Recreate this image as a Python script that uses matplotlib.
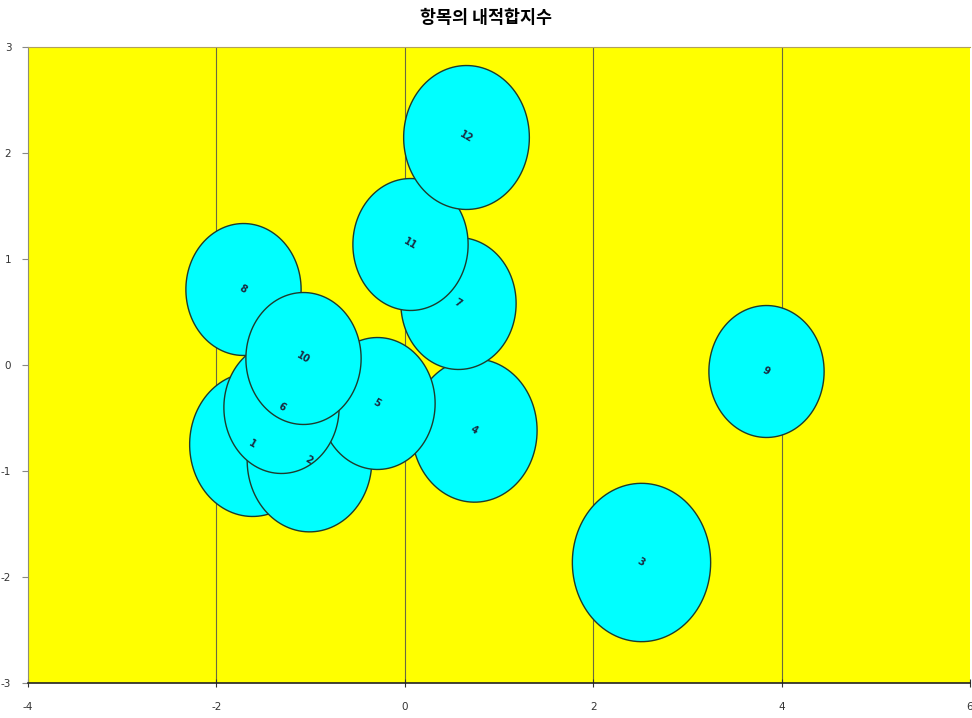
import numpy as np
import matplotlib.pyplot as plt
from matplotlib.path import Path

plt.rcParams['font.family'] = ['Noto Sans CJK KR', 'DejaVu Sans']

# item number, x (infit), y, bubble size
items = ['1', '2', '3', '4', '5', '6', '7', '8', '9', '10', '11', '12']
x_vals = [-1.62, -1.02, 2.51, 0.735, -0.295, -1.31, 0.565, -1.72, 3.83, -1.08, 0.055, 0.65]
y_vals = [-0.745, -0.90, -1.86, -0.61, -0.36, -0.40, 0.585, 0.72, -0.06, 0.066, 1.14, 2.15]
sizes = [1.19, 1.17, 1.44, 1.18, 1.0, 1.0, 1.0, 1.0, 1.0, 1.0, 1.0, 1.19]

x_ticks = [-4, -2, 0, 2, 4, 6]
y_ticks = [-3, -2, -1, 0, 1, 2, 3]

# bubbles are slightly taller than wide
t = np.linspace(0, 2 * np.pi, 120)
ellipse = Path(np.column_stack([np.cos(t) / 1.145, np.sin(t)]), closed=True)

fig = plt.figure(figsize=(9.72, 7.18), dpi=100)
ax = fig.add_axes([28 / 972, 35 / 718, 942 / 972, 636 / 718])
ax.set_facecolor('#FFFF00')

base = 95.0 ** 2
for i in range(len(items)):
    ax.scatter(x_vals[i], y_vals[i], s=base * sizes[i], marker=ellipse,
               facecolor='#00FFFF', edgecolor='#1e3b2c', linewidth=1.0, zorder=3 + i)
# labels sit on top of every bubble
for i in range(len(items)):
    ax.text(x_vals[i], y_vals[i], items[i], fontsize=7, fontweight='bold',
            color='#1a2a40', rotation=-30, ha='center', va='center',
            family='DejaVu Sans', zorder=50)

ax.set_xlim(-4, 6)
ax.set_ylim(-3, 3)
ax.set_xticks(x_ticks)
ax.set_yticks(y_ticks)
ax.set_xticklabels([str(v) for v in x_ticks], fontsize=7.5, color='#333333', family='DejaVu Sans')
ax.set_yticklabels([str(v) for v in y_ticks], fontsize=7.5, color='#333333', family='DejaVu Sans')
ax.tick_params(axis='x', direction='inout', length=6, width=0.8, pad=11, color='#333333')
ax.tick_params(axis='y', direction='out', length=4, width=0.8, pad=8, color='#888888')

for gx in [-2, 0, 2, 4]:
    ax.axvline(gx, color='#6a6a40', linewidth=0.8, zorder=1)

ax.spines['top'].set_color('#b0a060')
ax.spines['left'].set_color('#909070')
ax.spines['right'].set_visible(False)
ax.spines['bottom'].set_color('#222222')
ax.spines['bottom'].set_linewidth(1.2)
ax.spines['bottom'].set_linestyle((0, (2, 1)))

fig.text(0.5, 1 - 18 / 718, '항목의 내적합지수', ha='center', va='center',
         fontsize=12.5, fontweight='bold')

fig.savefig('out.png', dpi=100)
